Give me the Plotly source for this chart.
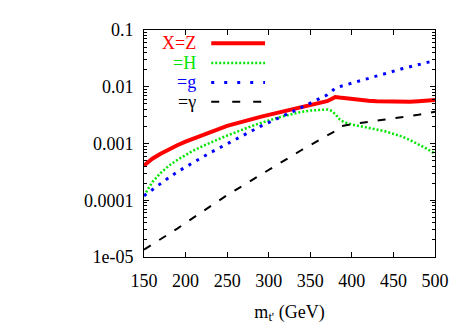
import plotly.graph_objects as go

FONT = "Liberation Serif, Times New Roman, serif"

mass = [150, 160, 170, 180, 190, 200, 210, 220, 230, 240, 250, 260, 270, 280,
        290, 300, 310, 320, 330, 340, 350, 360, 370, 375, 380, 385, 390, 400,
        410, 420, 430, 440, 450, 460, 470, 480, 490, 500]

br_z = [4.1e-4, 5.4e-4, 6.6e-4, 7.9e-4, 9.3e-4, 1.08e-3, 1.23e-3, 1.41e-3,
        1.58e-3, 1.80e-3, 2.04e-3, 2.24e-3, 2.48e-3, 2.72e-3, 2.95e-3, 3.20e-3,
        3.47e-3, 3.72e-3, 3.98e-3, 4.32e-3, 4.68e-3, 5.01e-3, 5.56e-3, 6.03e-3,
        6.61e-3, 6.46e-3, 6.31e-3, 6.05e-3, 5.89e-3, 5.69e-3, 5.56e-3, 5.47e-3,
        5.40e-3, 5.37e-3, 5.42e-3, 5.55e-3, 5.69e-3, 5.83e-3]

br_h = [1.20e-4, 2.09e-4, 3.02e-4, 4.07e-4, 5.13e-4, 6.31e-4, 7.59e-4, 8.91e-4,
        1.05e-3, 1.20e-3, 1.38e-3, 1.58e-3, 1.82e-3, 2.04e-3, 2.29e-3, 2.57e-3,
        2.82e-3, 3.09e-3, 3.39e-3, 3.63e-3, 3.80e-3, 3.94e-3, 3.98e-3, 3.80e-3,
        3.31e-3, 2.69e-3, 2.40e-3, 2.16e-3, 2.00e-3, 1.86e-3, 1.76e-3, 1.64e-3,
        1.50e-3, 1.33e-3, 1.15e-3, 9.8e-4, 8.1e-4, 6.6e-4]

br_g = [1.20e-4, 1.55e-4, 2.00e-4, 2.51e-4, 3.16e-4, 3.89e-4, 4.68e-4, 5.69e-4,
        6.92e-4, 8.32e-4, 1.00e-3, 1.20e-3, 1.41e-3, 1.68e-3, 2.00e-3, 2.32e-3,
        2.72e-3, 3.16e-3, 3.72e-3, 4.37e-3, 5.13e-3, 6.03e-3, 7.14e-3, 8.1e-3,
        9.5e-3, 1.00e-2, 1.05e-2, 1.16e-2, 1.30e-2, 1.43e-2, 1.55e-2, 1.72e-2,
        1.88e-2, 2.07e-2, 2.25e-2, 2.45e-2, 2.66e-2, 2.90e-2]

br_gamma = [1.35e-5, 1.66e-5, 2.09e-5, 2.57e-5, 3.16e-5, 3.98e-5, 5.01e-5,
            6.31e-5, 7.94e-5, 1.00e-4, 1.23e-4, 1.51e-4, 1.86e-4, 2.29e-4,
            2.82e-4, 3.47e-4, 4.27e-4, 5.25e-4, 6.31e-4, 7.76e-4, 9.33e-4,
            1.15e-3, 1.38e-3, 1.51e-3, 1.66e-3, 2.00e-3, 2.07e-3, 2.19e-3,
            2.29e-3, 2.43e-3, 2.53e-3, 2.64e-3, 2.75e-3, 2.88e-3, 3.02e-3,
            3.20e-3, 3.39e-3, 3.63e-3]

labels = ["X=Z", "=H", "=g", "=γ"]
colors = ["#FF0000", "#00E600", "#0000FF", "#000000"]
widths = [4, 2.5, 3, 2]
dashes = ["solid", "2px,2px", "3px,6px", "8px,10px"]
legend_dashes = ["solid", "2px,2px", "3px,10px", "8px,13px"]

y_tickvals = [1e-5, 1e-4, 1e-3, 1e-2, 1e-1]
y_ticktext = ["1e-05", "0.0001", "0.001", "0.01", "0.1"]

fig = go.Figure()
for name, ys, c, w, d in zip(labels, [br_z, br_h, br_g, br_gamma], colors, widths, dashes):
    fig.add_trace(go.Scatter(x=mass, y=ys, mode="lines", name=name,
                             line=dict(color=c, width=w, dash=d), showlegend=False))

# gnuplot-style key: text right-aligned, line sample to its right
rows = [0.942, 0.855, 0.769, 0.684]
for name, c, w, d, yr in zip(labels, colors, widths, legend_dashes, rows):
    fig.add_annotation(x=0.186, y=yr, xref="paper", yref="paper", text=name,
                       showarrow=False, xanchor="right", yanchor="middle",
                       font=dict(color=c, size=18, family=FONT))
    fig.add_shape(type="line", xref="paper", yref="paper", x0=0.231, x1=0.416,
                  y0=yr, y1=yr, line=dict(color=c, width=w, dash=d))

axis_common = dict(showline=True, linecolor="#000000", linewidth=1, mirror="allticks",
                   ticks="inside", tickcolor="#000000", ticklen=5, showgrid=False,
                   zeroline=False, tickfont=dict(size=18, family=FONT, color="#000000"))

# page body has an 8px margin, so the figure is a bit smaller than the window
fig.update_layout(
    width=463, height=322,
    paper_bgcolor="#FFFFFF", plot_bgcolor="#FFFFFF",
    margin=dict(l=136, r=36, t=17, b=64),
    font=dict(family=FONT, color="#000000", size=18),
    xaxis=dict(range=[150, 500], tickmode="linear", tick0=150, dtick=50,
               ticklabelstandoff=7,
               title=dict(text="m<sub>t'</sub> (GeV)", standoff=15,
                          font=dict(size=18, family=FONT)),
               **axis_common),
    yaxis=dict(type="log", range=[-5, -1], tickmode="array", tickvals=y_tickvals,
               ticktext=y_ticktext, ticklabelstandoff=6,
               minor=dict(ticks="inside", ticklen=3, dtick="D1", tickcolor="#000000"),
               **axis_common),
)

fig.write_html("out.html")
